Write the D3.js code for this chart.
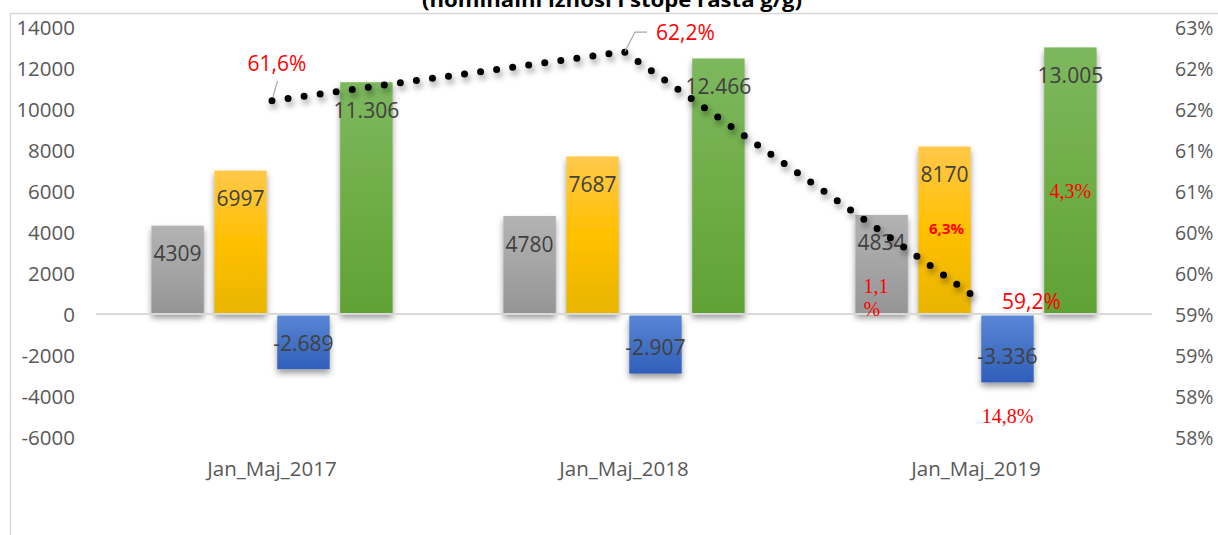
<!DOCTYPE html>
<html><head><meta charset="utf-8">
<script src="https://cdn.jsdelivr.net/npm/d3@7"></script>
<style>html,body{margin:0;padding:0;background:#fff;overflow:hidden}</style>
</head><body>
<svg id="chart" width="1218" height="535"></svg>
<script>
// ---- data ----
const title = "(nominalni iznosi i stope rasta g/g)";
const categories = ["Jan_Maj_2017", "Jan_Maj_2018", "Jan_Maj_2019"];
const seriesNames = ["Izvoz", "Uvoz", "Saldo", "Obim razmjene"];
const izvoz = [4309, 4780, 4834];
const uvoz = [6997, 7687, 8170];
const saldo = [-2689, -2907, -3336];
const obim = [11306, 12466, 13005];
const pokrivenost = [61.6, 62.2, 59.2];
const growth2019 = ["1,1", "6,3%", "14,8%", "4,3%"];
const leftTicks = [-6000, -4000, -2000, 0, 2000, 4000, 6000, 8000, 10000, 12000, 14000];
const rightTicks = [57.5, 58, 58.5, 59, 59.5, 60, 60.5, 61, 61.5, 62, 62.5];
const groupedFormat = [false, false, true, true];

const seriesValues = [izvoz, uvoz, saldo, obim];
const colors = [
  ["#b3b3b3", "#a5a5a5", "#959595"],
  ["#ffc84a", "#ffc000", "#e8b500"],
  ["#5b86d8", "#4472c4", "#2f5fbb"],
  ["#7db85f", "#70ad47", "#5fa235"]
];

const svg = d3.select("#chart");
const defs = svg.append("defs");
colors.forEach((c, i) => {
  const g = defs.append("linearGradient").attr("id", "g" + i)
    .attr("x1", 0).attr("y1", 0).attr("x2", 0).attr("y2", 1);
  g.append("stop").attr("offset", "0%").attr("stop-color", c[0]);
  g.append("stop").attr("offset", "50%").attr("stop-color", c[1]);
  g.append("stop").attr("offset", "100%").attr("stop-color", c[2]);
});
const sh = defs.append("filter").attr("id", "sh").attr("x", "-20%").attr("y", "-20%").attr("width", "140%").attr("height", "150%");
sh.append("feDropShadow").attr("dx", 0).attr("dy", 4).attr("stdDeviation", 3)
  .attr("flood-color", "#000").attr("flood-opacity", 0.4);
const lsh = defs.append("filter").attr("id", "lsh").attr("x", "-10%").attr("y", "-30%").attr("width", "120%").attr("height", "160%");
lsh.append("feDropShadow").attr("dx", 2).attr("dy", 4).attr("stdDeviation", 3)
  .attr("flood-color", "#000").attr("flood-opacity", 0.45);

// frame
svg.append("line").attr("x1", 10).attr("x2", 1218).attr("y1", 13.5).attr("y2", 13.5)
  .attr("stroke", "#d9d9d9").attr("stroke-width", 1.5);
svg.append("line").attr("x1", 10.5).attr("x2", 10.5).attr("y1", 13).attr("y2", 535)
  .attr("stroke", "#d9d9d9").attr("stroke-width", 1.5);

// title (clipped by top edge, as in the reference)
svg.append("text").attr("x", 612).attr("y", 6.5).attr("text-anchor", "middle")
  .attr("font-family", "'Open Sans', sans-serif").attr("font-weight", "bold")
  .attr("font-size", 20).attr("fill", "#000")
  .attr("textLength", 380).attr("lengthAdjust", "spacingAndGlyphs").text(title);

// scales
const x0 = d3.scaleBand().domain(categories).range([96, 1152]);
const x1 = d3.scaleBand().domain(seriesNames).range([0, x0.bandwidth()])
  .paddingInner(0.1667).paddingOuter(0.88);
const y = d3.scaleLinear().domain([-6000, 14000]).range([437, 27]);
const y2 = d3.scaleLinear().domain([57.5, 62.5]).range([437, 27]);

// formats (hyphen minus)
const locPlain = d3.formatLocale({ decimal: ",", thousands: "", grouping: [3], currency: ["", ""], minus: "-" });
const locGroup = d3.formatLocale({ decimal: ",", thousands: ".", grouping: [3], currency: ["", ""], minus: "-" });
const fmtPlain = locPlain.format("d");
const fmtGroup = locGroup.format(",d");

// axes
const font = "'Open Sans', sans-serif";
const la = svg.append("g").attr("transform", "translate(75,0)")
  .call(d3.axisLeft(y).tickValues(leftTicks).tickSize(0).tickPadding(0).tickFormat(fmtPlain));
la.select(".domain").remove();
la.selectAll("text").attr("font-family", font).attr("font-size", 20.5).attr("fill", "#595959").attr("dy", "0.36em");

const ra = svg.append("g").attr("transform", "translate(1175,0)")
  .call(d3.axisRight(y2).tickValues(rightTicks).tickSize(0).tickPadding(0).tickFormat(d => Math.round(d) + "%"));
ra.select(".domain").remove();
ra.selectAll("text").attr("font-family", font).attr("font-size", 19.5).attr("fill", "#595959").attr("dy", "0.36em");

const ba = svg.append("g").attr("transform", "translate(0,469)")
  .call(d3.axisBottom(x0).tickSize(0).tickPadding(0));
ba.select(".domain").remove();
ba.selectAll("text").attr("font-family", font).attr("font-size", 20.5).attr("fill", "#595959").attr("dy", "0.36em");

// bars
const barData = [];
categories.forEach((c, ci) => seriesNames.forEach((s, si) => barData.push({ c, ci, s, si, v: seriesValues[si][ci] })));

const bars = svg.append("g");
bars.selectAll("rect").data(barData).join("rect")
  .attr("x", d => x0(d.c) + x1(d.s))
  .attr("width", x1.bandwidth())
  .attr("y", d => d.v >= 0 ? y(d.v) : y(0) + 1.5)
  .attr("height", d => d.v >= 0 ? y(0) - y(d.v) : y(d.v) - y(0) - 1.5)
  .attr("fill", d => "url(#g" + d.si + ")")
  .attr("filter", "url(#sh)");

// zero line
svg.append("line").attr("x1", 96).attr("x2", 1152).attr("y1", y(0)).attr("y2", y(0))
  .attr("stroke", "#d9d9d9").attr("stroke-width", 1.8);

// value labels
svg.append("g").selectAll("text").data(barData).join("text")
  .attr("x", d => x0(d.c) + x1(d.s) + x1.bandwidth() / 2)
  .attr("y", d => d.v >= 0 ? y(d.v) + 28 : y(d.v) - 26)
  .attr("dy", "0.36em").attr("text-anchor", "middle")
  .attr("font-family", font).attr("font-size", 21).attr("fill", "#404040")
  .text(d => groupedFormat[d.si] ? fmtGroup(d.v) : fmtPlain(d.v));

// line
const cx = c => x0(c) + x0.bandwidth() / 2;
const pts = categories.map((c, i) => [cx(c), y2(pokrivenost[i])]);
svg.append("path").attr("d", d3.line()(pts))
  .attr("fill", "none").attr("stroke", "#000").attr("stroke-width", 7)
  .attr("stroke-linecap", "round").attr("stroke-dasharray", "0 16.2")
  .attr("filter", "url(#lsh)");

// line labels
const fmtPct = v => d3.format(".1f")(v).replace(".", ",") + "%";
const red = "#ff0000";
svg.append("path").attr("d", `M${pts[0][0] + 5.5},${pts[0][1] - 20}L${pts[0][0] + 1},${pts[0][1] - 4}`)
  .attr("stroke", "#a6a6a6").attr("stroke-width", 1.2).attr("fill", "none");
svg.append("text").attr("x", pts[0][0] + 5).attr("y", pts[0][1] - 30).attr("text-anchor", "middle")
  .attr("font-family", font).attr("font-size", 21).attr("fill", red).text(fmtPct(pokrivenost[0]));
svg.append("path").attr("d", `M${pts[1][0] + 1},${pts[1][1]}L${pts[1][0] + 11},${pts[1][1] - 19.5}L${pts[1][0] + 23},${pts[1][1] - 19.5}`)
  .attr("stroke", "#a6a6a6").attr("stroke-width", 1.2).attr("fill", "none");
svg.append("text").attr("x", pts[1][0] + 32).attr("y", pts[1][1] - 12).attr("text-anchor", "start")
  .attr("font-family", font).attr("font-size", 21).attr("fill", red).text(fmtPct(pokrivenost[1]));
svg.append("text").attr("x", pts[2][0] + 26).attr("y", pts[2][1] + 11).attr("text-anchor", "start")
  .attr("font-family", font).attr("font-size", 21).attr("fill", red).text(fmtPct(pokrivenost[2]));

// growth annotations (2019)
const c19 = categories[2];
const bx = s => x0(c19) + x1(s);
const serif = "'Liberation Serif', 'Times New Roman', serif";
const t1 = svg.append("text").attr("font-family", serif).attr("font-size", 20).attr("fill", red);
t1.append("tspan").attr("x", bx(seriesNames[0]) + 8).attr("y", y(0) - 21).text(growth2019[0]);
t1.append("tspan").attr("x", bx(seriesNames[0]) + 8).attr("y", y(0) + 2).text("%");
svg.append("text").attr("x", bx(seriesNames[1]) + x1.bandwidth() / 2 + 2).attr("y", y(uvoz[2]) + 87)
  .attr("text-anchor", "middle").attr("font-family", font).attr("font-weight", "bold")
  .attr("font-size", 15).attr("fill", red).text(growth2019[1]);
svg.append("text").attr("x", bx(seriesNames[2]) + x1.bandwidth() / 2).attr("y", y(saldo[2]) + 41)
  .attr("text-anchor", "middle").attr("font-family", serif).attr("font-size", 20).attr("fill", red).text(growth2019[2]);
svg.append("text").attr("x", bx(seriesNames[3]) + x1.bandwidth() / 2).attr("y", y(obim[2]) + 151)
  .attr("text-anchor", "middle").attr("font-family", serif).attr("font-size", 20).attr("fill", red).text(growth2019[3]);
</script>
</body></html>
